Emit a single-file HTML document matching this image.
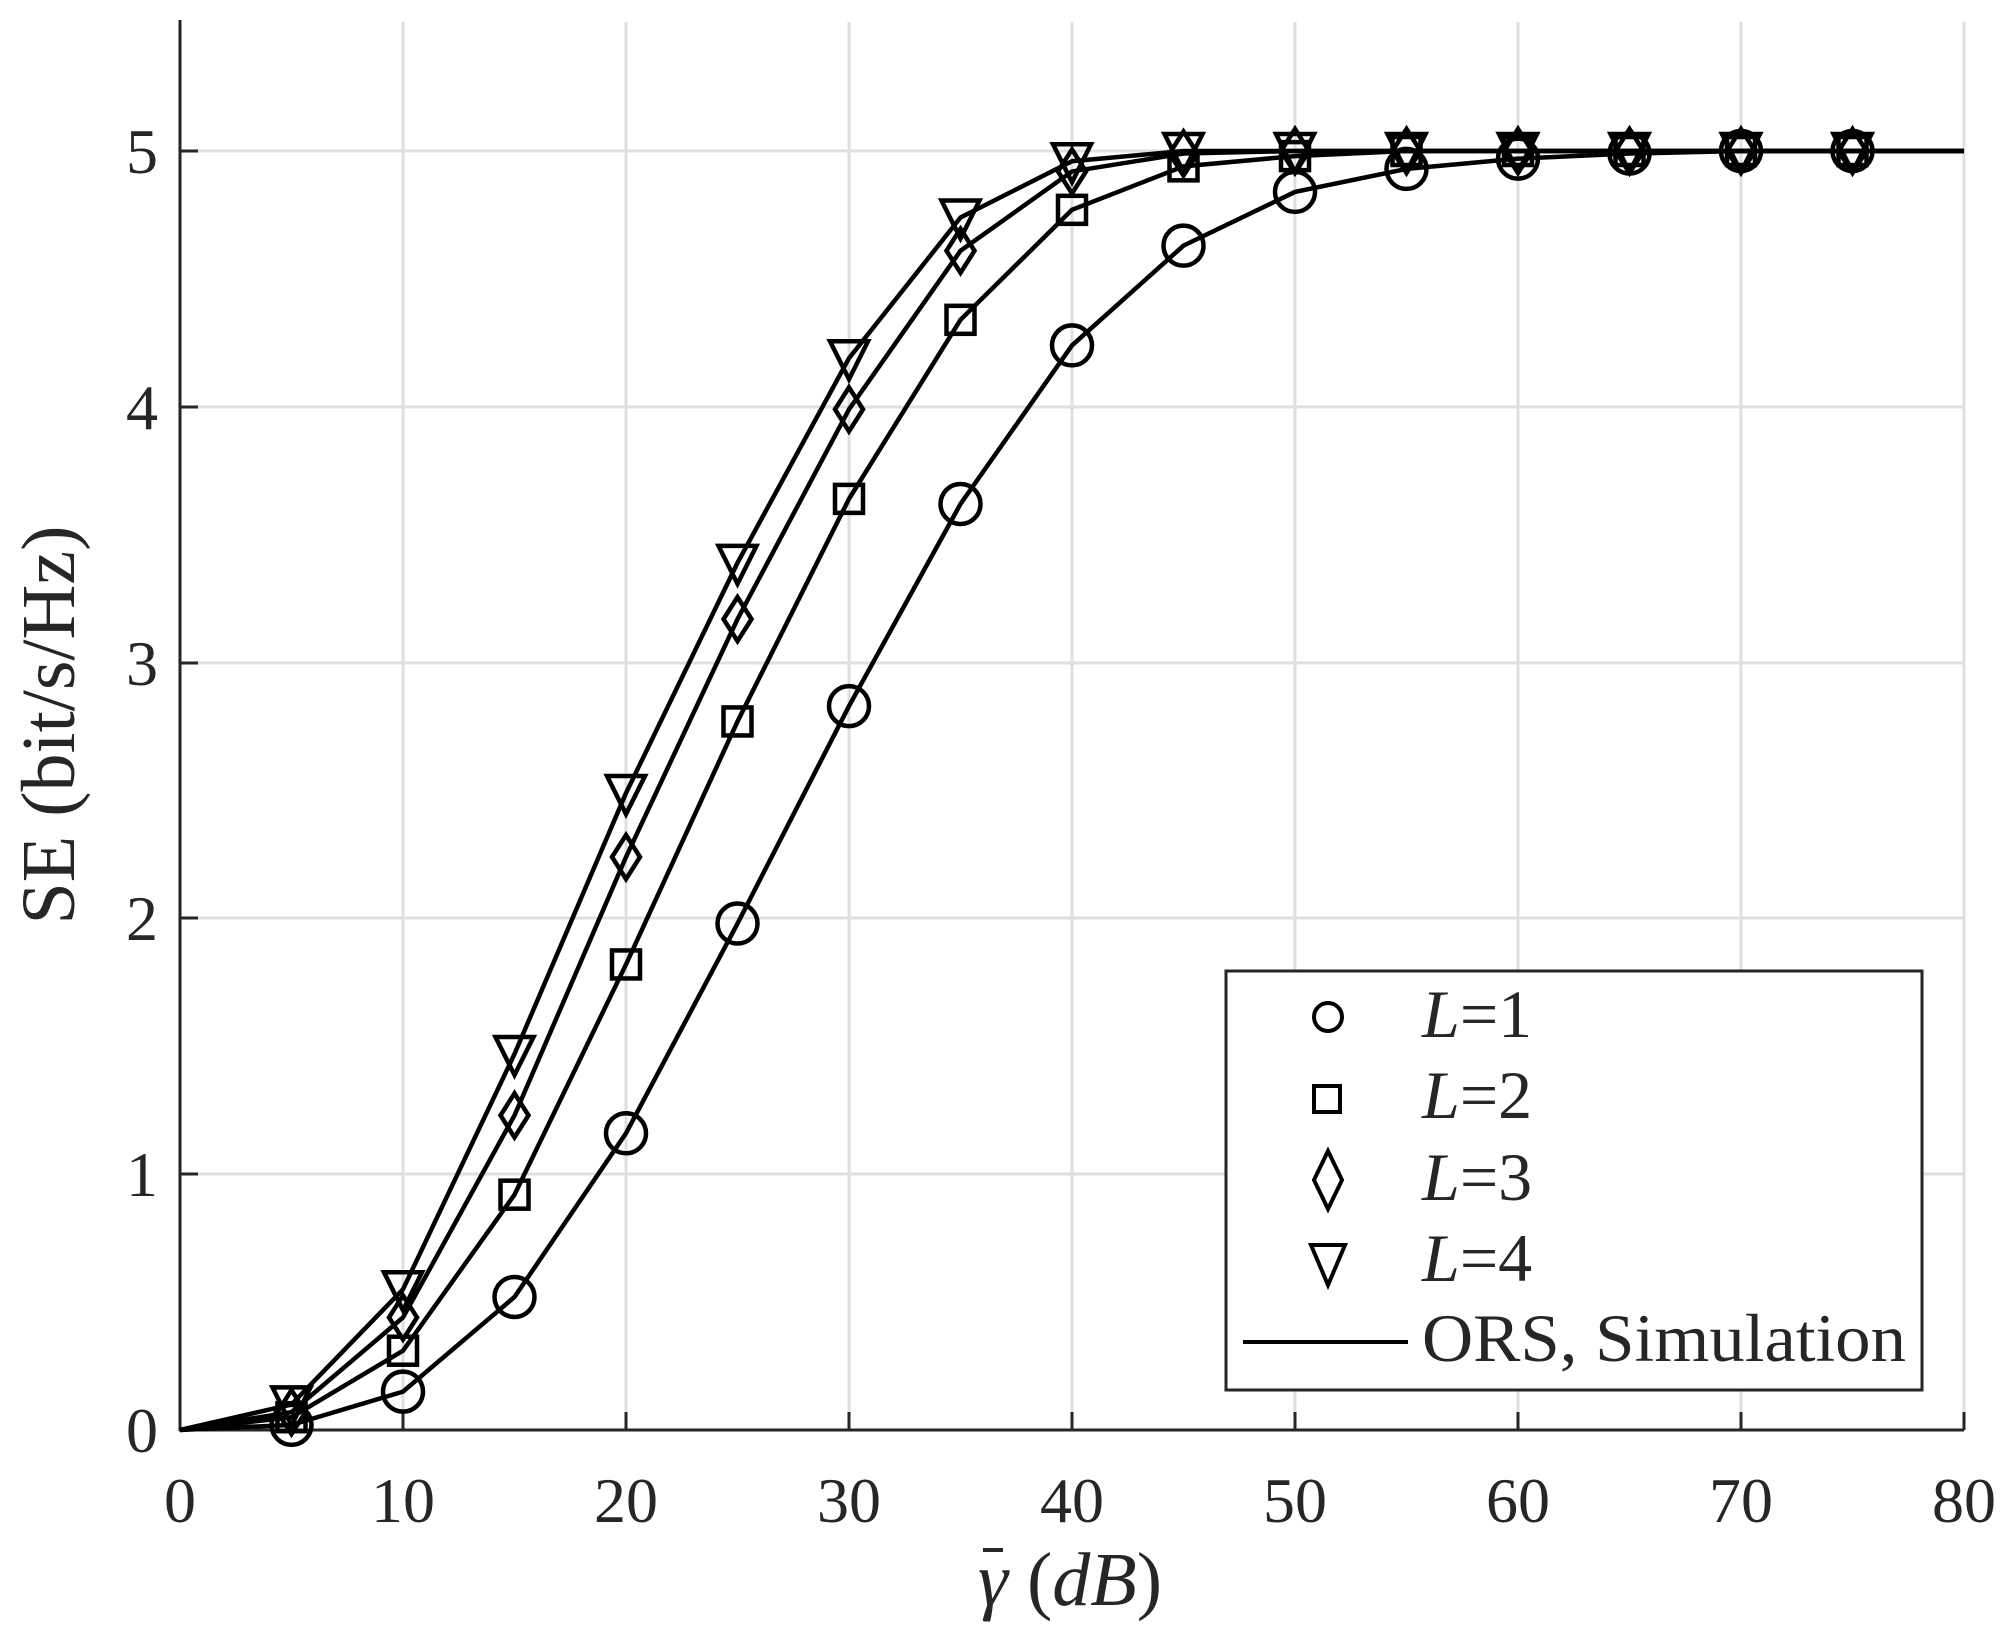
<!DOCTYPE html>
<html><head><meta charset="utf-8"><style>
html,body{margin:0;padding:0;background:#fff}
svg text{font-family:"Liberation Serif",serif;fill:#262626}
</style></head><body>
<svg width="2013" height="1634" viewBox="0 0 2013 1634" xmlns="http://www.w3.org/2000/svg">
<rect width="2013" height="1634" fill="#fff"/>
<g stroke="#dfdfdf" stroke-width="3">
<line x1="403" y1="22" x2="403" y2="1430"/><line x1="626" y1="22" x2="626" y2="1430"/>
<line x1="849" y1="22" x2="849" y2="1430"/><line x1="1072" y1="22" x2="1072" y2="1430"/>
<line x1="1295" y1="22" x2="1295" y2="1430"/><line x1="1518" y1="22" x2="1518" y2="1430"/>
<line x1="1741" y1="22" x2="1741" y2="1430"/><line x1="1964" y1="22" x2="1964" y2="1430"/>
<line x1="180" y1="1174" x2="1964" y2="1174"/><line x1="180" y1="918" x2="1964" y2="918"/>
<line x1="180" y1="663" x2="1964" y2="663"/><line x1="180" y1="407" x2="1964" y2="407"/>
<line x1="180" y1="151" x2="1964" y2="151"/>
</g>
<g stroke="#262626" stroke-width="3" fill="none">
<line x1="180" y1="20" x2="180" y2="1431"/>
<line x1="179" y1="1430" x2="1964" y2="1430"/>
<line x1="403" y1="1430" x2="403" y2="1412"/><line x1="626" y1="1430" x2="626" y2="1412"/>
<line x1="849" y1="1430" x2="849" y2="1412"/><line x1="1072" y1="1430" x2="1072" y2="1412"/>
<line x1="1295" y1="1430" x2="1295" y2="1412"/><line x1="1518" y1="1430" x2="1518" y2="1412"/>
<line x1="1741" y1="1430" x2="1741" y2="1412"/><line x1="1964" y1="1430" x2="1964" y2="1412"/>
<line x1="180" y1="1174" x2="198" y2="1174"/><line x1="180" y1="918" x2="198" y2="918"/>
<line x1="180" y1="663" x2="198" y2="663"/><line x1="180" y1="407" x2="198" y2="407"/>
<line x1="180" y1="151" x2="198" y2="151"/>
</g>
<g font-size="64" text-anchor="middle">
<text x="180" y="1522">0</text><text x="403" y="1522">10</text><text x="626" y="1522">20</text>
<text x="849" y="1522">30</text><text x="1072" y="1522">40</text><text x="1295" y="1522">50</text>
<text x="1518" y="1522">60</text><text x="1741" y="1522">70</text><text x="1964" y="1522">80</text>
</g>
<g font-size="64" text-anchor="end">
<text x="158" y="1452">0</text><text x="158" y="1196">1</text><text x="158" y="940">2</text>
<text x="158" y="685">3</text><text x="158" y="429">4</text><text x="158" y="173">5</text>
</g>
<text x="1070" y="1605" font-size="76" text-anchor="middle"><tspan font-style="italic">γ</tspan> (<tspan font-style="italic">dB</tspan>)</text>
<line x1="983" y1="1550" x2="1003" y2="1550" stroke="#262626" stroke-width="4"/>
<text transform="translate(74,725) rotate(-90)" font-size="76" text-anchor="middle">SE (bit/s/Hz)</text>
<g id="plot" fill="none" stroke="#000" stroke-width="4.5"></g>
<rect x="1226" y="971" width="696" height="419" fill="#fff" stroke="#262626" stroke-width="3"/>
<g fill="none" stroke="#000" stroke-width="4">
<circle cx="1328" cy="1017" r="14"/>
<rect x="1314" y="1086" width="26" height="26"/>
<path d="M1328 1151 L1342 1180 L1328 1209 L1314 1180 Z"/>
<path d="M1311 1245 L1345 1245 L1328 1285 Z"/>
<line x1="1243" y1="1342" x2="1408" y2="1342"/>
</g>
<g font-size="68" fill="#000">
<text x="1422" y="1037" font-style="italic">L<tspan font-style="normal">=1</tspan></text>
<text x="1422" y="1118" font-style="italic">L<tspan font-style="normal">=2</tspan></text>
<text x="1422" y="1200" font-style="italic">L<tspan font-style="normal">=3</tspan></text>
<text x="1422" y="1281" font-style="italic">L<tspan font-style="normal">=4</tspan></text>
<text x="1422" y="1361" textLength="484" lengthAdjust="spacingAndGlyphs">ORS, Simulation</text>
</g>
<script>
(function(){
var d=[
[0,0.02,0.15,0.52,1.16,1.98,2.83,3.62,4.24,4.63,4.84,4.93,4.97,4.99,5,5],
[0,0.05,0.31,0.92,1.82,2.77,3.64,4.34,4.77,4.94,4.98,5,5,5,5,5],
[0,0.07,0.44,1.23,2.24,3.17,3.99,4.61,4.92,4.99,5,5,5,5,5,5],
[0,0.1,0.55,1.47,2.49,3.39,4.19,4.74,4.96,5,5,5,5,5,5,5]];
var g=document.getElementById('plot'),ns='http://www.w3.org/2000/svg';
function X(v){return 180+v*22.3}function Y(v){return 1430-v*255.8}
function el(t,a){var e=document.createElementNS(ns,t);for(var k in a)e.setAttribute(k,a[k]);g.appendChild(e);return e}
d.forEach(function(s,si){
var p='';s.forEach(function(v,i){p+=(i?'L':'M')+X(i*5)+' '+Y(v)});p+='L'+X(80)+' '+Y(5);
el('path',{d:p});
s.forEach(function(v,i){if(i==0)return;var x=X(i*5),y=Y(v);
if(si==0)el('circle',{cx:x,cy:y,r:20});
else if(si==1)el('rect',{x:x-14,y:y-14,width:28,height:28});
else if(si==2)el('path',{d:'M'+x+' '+(y-22)+'L'+(x+14)+' '+y+'L'+x+' '+(y+22)+'L'+(x-14)+' '+y+'Z'});
else el('path',{d:'M'+(x-19)+' '+(y-17)+'L'+(x+19)+' '+(y-17)+'L'+x+' '+(y+21)+'Z'});
});});
})();
</script>
</svg>
</body></html>
